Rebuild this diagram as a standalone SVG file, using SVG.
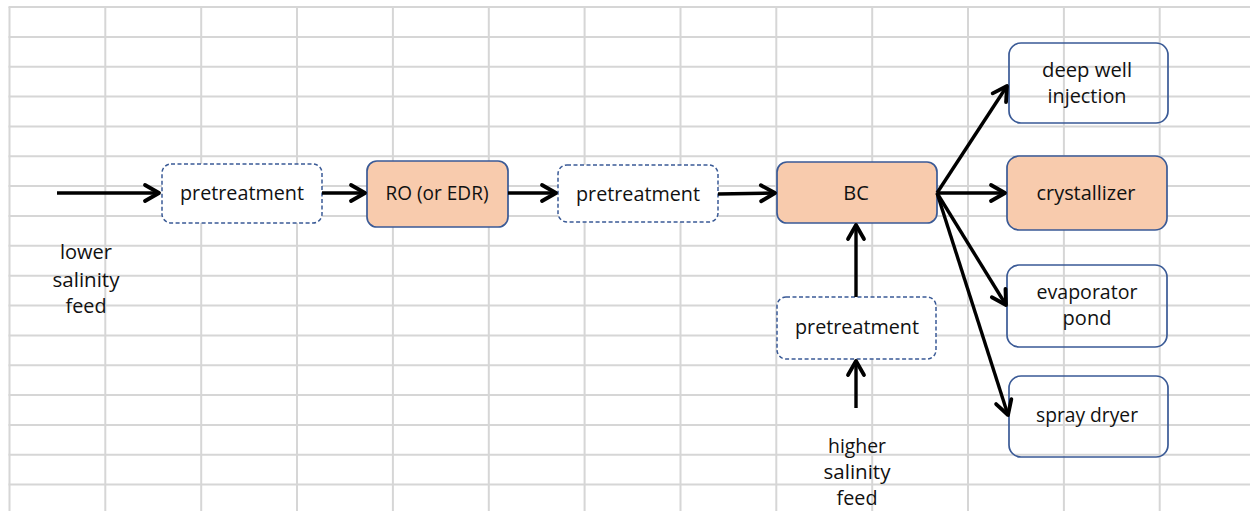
<svg xmlns="http://www.w3.org/2000/svg" width="1250" height="511" viewBox="0 0 1250 511">
<style>
.grid line{stroke:#d6d6d6;stroke-width:2}
.box{stroke:#3a5a96;stroke-width:1.7}
.dash{fill:#ffffff;stroke:#3a5a96;stroke-width:1.5;stroke-dasharray:4 2.5}
.fillbox{fill:#f8cbad}
.plain{fill:none}
text{font-family:"Open Sans","Liberation Sans",sans-serif;font-size:20px;fill:#111111;text-anchor:middle}
.conn line{stroke:#000000;stroke-width:3.4;marker-end:url(#arr)}
</style>
<defs>
<marker id="arr" markerUnits="userSpaceOnUse" markerWidth="24" markerHeight="24" viewBox="-20 -12 24 24" refX="0" refY="0" orient="auto" overflow="visible">
<path d="M -14 -8 L 0 0 L -14 8" fill="none" stroke="#000000" stroke-width="3.8" stroke-linejoin="round" stroke-linecap="round"/>
</marker>
</defs>
<rect width="1250" height="511" fill="#ffffff"/>
<g class="grid">
<line x1="9.5" y1="7" x2="9.5" y2="511"/>
<line x1="105.3" y1="7" x2="105.3" y2="511"/>
<line x1="201.2" y1="7" x2="201.2" y2="511"/>
<line x1="297" y1="7" x2="297" y2="511"/>
<line x1="392.9" y1="7" x2="392.9" y2="511"/>
<line x1="488.8" y1="7" x2="488.8" y2="511"/>
<line x1="584.6" y1="7" x2="584.6" y2="511"/>
<line x1="680.5" y1="7" x2="680.5" y2="511"/>
<line x1="776.3" y1="7" x2="776.3" y2="511"/>
<line x1="872.2" y1="7" x2="872.2" y2="511"/>
<line x1="968" y1="7" x2="968" y2="511"/>
<line x1="1063.9" y1="7" x2="1063.9" y2="511"/>
<line x1="1159.7" y1="7" x2="1159.7" y2="511"/>
<line x1="8.5" y1="7" x2="1250" y2="7"/>
<line x1="8.5" y1="36.9" x2="1250" y2="36.9"/>
<line x1="8.5" y1="66.7" x2="1250" y2="66.7"/>
<line x1="8.5" y1="96.6" x2="1250" y2="96.6"/>
<line x1="8.5" y1="126.4" x2="1250" y2="126.4"/>
<line x1="8.5" y1="156.3" x2="1250" y2="156.3"/>
<line x1="8.5" y1="186.1" x2="1250" y2="186.1"/>
<line x1="8.5" y1="216" x2="1250" y2="216"/>
<line x1="8.5" y1="245.8" x2="1250" y2="245.8"/>
<line x1="8.5" y1="275.7" x2="1250" y2="275.7"/>
<line x1="8.5" y1="305.5" x2="1250" y2="305.5"/>
<line x1="8.5" y1="335.4" x2="1250" y2="335.4"/>
<line x1="8.5" y1="365.2" x2="1250" y2="365.2"/>
<line x1="8.5" y1="395.1" x2="1250" y2="395.1"/>
<line x1="8.5" y1="424.9" x2="1250" y2="424.9"/>
<line x1="8.5" y1="454.8" x2="1250" y2="454.8"/>
<line x1="8.5" y1="484.6" x2="1250" y2="484.6"/>
</g>
<g id="label-lower-feed">
<text x="86" y="259" textLength="52" lengthAdjust="spacingAndGlyphs">lower</text>
<text x="86" y="287" textLength="67" lengthAdjust="spacingAndGlyphs">salinity</text>
<text x="86" y="313" textLength="41" lengthAdjust="spacingAndGlyphs">feed</text>
</g>
<g id="pretreatment-1">
<rect class="dash" x="162" y="164" width="160" height="59" rx="9"/>
<text x="242" y="200" textLength="124" lengthAdjust="spacingAndGlyphs">pretreatment</text>
</g>
<g id="ro">
<rect class="box fillbox" x="367" y="161" width="141" height="66" rx="10"/>
<text x="437" y="200" textLength="103" lengthAdjust="spacingAndGlyphs">RO (or EDR)</text>
</g>
<g id="pretreatment-2">
<rect class="dash" x="558" y="165" width="160" height="57" rx="9"/>
<text x="638" y="201" textLength="124" lengthAdjust="spacingAndGlyphs">pretreatment</text>
</g>
<g id="bc">
<rect class="box fillbox" x="777" y="162" width="160" height="61" rx="10"/>
<text x="856" y="200">BC</text>
</g>
<g id="pretreatment-3">
<rect class="dash" x="777" y="297" width="159" height="62" rx="9"/>
<text x="857" y="334" textLength="124" lengthAdjust="spacingAndGlyphs">pretreatment</text>
</g>
<g id="label-higher-feed">
<text x="857" y="453" textLength="58" lengthAdjust="spacingAndGlyphs">higher</text>
<text x="857" y="479" textLength="67" lengthAdjust="spacingAndGlyphs">salinity</text>
<text x="857" y="505" textLength="41" lengthAdjust="spacingAndGlyphs">feed</text>
</g>
<g id="deep-well">
<rect class="box plain" x="1009" y="43" width="159" height="80" rx="12"/>
<text x="1087" y="77" textLength="90" lengthAdjust="spacingAndGlyphs">deep well</text>
<text x="1087" y="103" textLength="79" lengthAdjust="spacingAndGlyphs">injection</text>
</g>
<g id="crystallizer">
<rect class="box fillbox" x="1007" y="156" width="160" height="74" rx="12"/>
<text x="1086" y="200" textLength="99" lengthAdjust="spacingAndGlyphs">crystallizer</text>
</g>
<g id="evaporator-pond">
<rect class="box plain" x="1007" y="265" width="160" height="82" rx="12"/>
<text x="1087" y="299" textLength="101" lengthAdjust="spacingAndGlyphs">evaporator</text>
<text x="1087" y="325">pond</text>
</g>
<g id="spray-dryer">
<rect class="box plain" x="1009" y="376" width="159" height="81" rx="12"/>
<text x="1087" y="422" textLength="102" lengthAdjust="spacingAndGlyphs">spray dryer</text>
</g>
<g class="conn" id="connectors">
<line x1="57" y1="193" x2="159" y2="193"/>
<line x1="322" y1="193" x2="365" y2="193"/>
<line x1="508" y1="193" x2="556" y2="193"/>
<line x1="718" y1="194" x2="775" y2="193"/>
<line x1="856" y1="297" x2="856" y2="225"/>
<line x1="856" y1="408" x2="856" y2="361"/>
<line x1="937" y1="193" x2="1007" y2="86"/>
<line x1="937" y1="193" x2="1005" y2="193"/>
<line x1="937" y1="193" x2="1006" y2="305"/>
<line x1="937" y1="193" x2="1008" y2="415"/>
</g>
</svg>
